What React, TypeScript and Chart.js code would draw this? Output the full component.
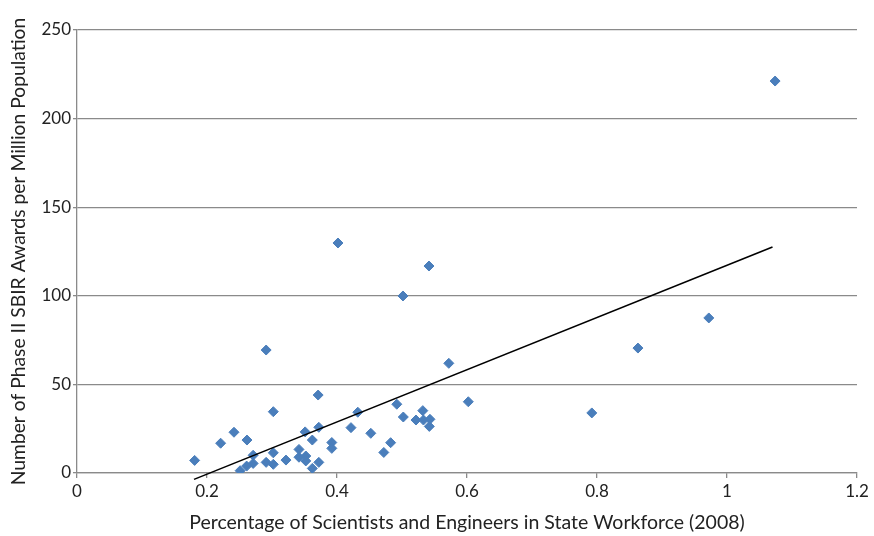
import { useEffect, useRef } from 'react';
import { Chart, registerables } from 'chart.js';

Chart.register(...registerables);

const xValues = [
  1.074, 0.4015, 0.5415, 0.5015, 0.972, 0.291, 0.863, 0.572, 0.371, 0.602,
  0.492, 0.792, 0.302, 0.432, 0.532, 0.502, 0.5215, 0.533, 0.543, 0.542,
  0.4215, 0.372, 0.2415, 0.351, 0.452, 0.221, 0.2615, 0.362, 0.392, 0.4825,
  0.392, 0.3415, 0.472, 0.271, 0.302, 0.3415, 0.352, 0.181, 0.3215, 0.291,
  0.302, 0.271, 0.261, 0.251, 0.362, 0.372, 0.352,
];
const yValues = [
  221.2, 129.8, 116.8, 99.9, 87.5, 69.4, 70.5, 61.9, 44.0, 40.2,
  38.8, 33.9, 34.6, 34.3, 35.2, 31.6, 29.9, 29.9, 30.3, 26.3,
  25.6, 25.8, 23.0, 23.2, 22.4, 16.8, 18.6, 18.6, 17.2, 17.1,
  13.9, 13.3, 11.6, 10.0, 11.4, 8.9, 9.6, 7.1, 7.3, 6.0,
  4.9, 5.4, 3.9, 1.3, 2.6, 6.0, 6.8,
];
const trendX = [0.18, 1.07];
const trendY = [-3.6, 127.5];
const xTickLabels = ['0', '0.2', '0.4', '0.6', '0.8', '1', '1.2'];
const xTitle = 'Percentage of Scientists and Engineers in State Workforce (2008)';
const yTitle = 'Number of Phase II SBIR Awards per Million Population';

const FONT = 'Lato, "Open Sans", sans-serif';
const TEXT = '#222222';
const GRID = '#8a8a8a';

export default function App() {
  const ref = useRef<HTMLCanvasElement | null>(null);
  useEffect(() => {
    if (!ref.current) return;
    const chart = new Chart(ref.current, {
      type: 'scatter',
      data: {
        datasets: [
          {
            label: 'Trend',
            type: 'line',
            data: trendX.map((x, i) => ({ x, y: trendY[i] })),
            borderColor: '#000000',
            borderWidth: 1.6,
            pointRadius: 0,
            showLine: true,
            fill: false,
            clip: false,
          } as any,
          {
            label: 'States',
            data: xValues.map((x, i) => ({ x, y: yValues[i] })),
            pointStyle: 'rectRot',
            pointRadius: 5,
            pointBackgroundColor: '#4a7ebb',
            pointBorderColor: '#4a7ebb',
            pointBorderWidth: 1,
          },
        ],
      },
      options: {
        animation: false,
        responsive: false,
        maintainAspectRatio: false,
        layout: { padding: { top: 30, right: 17, left: 0, bottom: 0 } },
        plugins: { legend: { display: false }, tooltip: { enabled: false } },
        scales: {
          x: {
            type: 'linear',
            min: 0,
            max: 1.2,
            afterFit: (s: any) => { s.height = 63; },
            afterBuildTicks: (s: any) => {
              s.ticks = xTickLabels.map((t) => ({ value: parseFloat(t) }));
            },
            ticks: {
              callback: (v: any, i: number) => xTickLabels[i],
              font: { family: FONT, size: 17 },
              color: TEXT,
              padding: 3,
              maxRotation: 0,
              autoSkip: false,
            },
            grid: { drawOnChartArea: false, drawTicks: true, tickLength: 5, color: GRID, lineWidth: 1.3 },
            border: { display: true, color: GRID, width: 1.3 },
            title: {
              display: true,
              text: xTitle,
              font: { family: FONT, size: 19.5 },
              color: TEXT,
              padding: { top: 0, bottom: 2 },
            },
          },
          y: {
            type: 'linear',
            min: 0,
            max: 250,
            afterFit: (s: any) => { s.width = 77; },
            ticks: {
              stepSize: 50,
              font: { family: FONT, size: 17 },
              color: TEXT,
              padding: 2,
            },
            grid: { drawTicks: true, tickLength: 4, color: GRID, lineWidth: 1.3 },
            border: { display: true, color: GRID, width: 1.3 },
            title: {
              display: true,
              text: yTitle,
              font: { family: FONT, size: 19.3 },
              color: TEXT,
              padding: { top: 7, bottom: 0 },
            },
          },
        },
      },
    });
    return () => chart.destroy();
  }, []);
  return (
    <div style={{ position: 'fixed', left: 0, top: 0, width: 874, height: 536, background: '#fff' }}>
      <canvas ref={ref} width={874} height={536} style={{ width: 874, height: 536 }} />
    </div>
  );
}
